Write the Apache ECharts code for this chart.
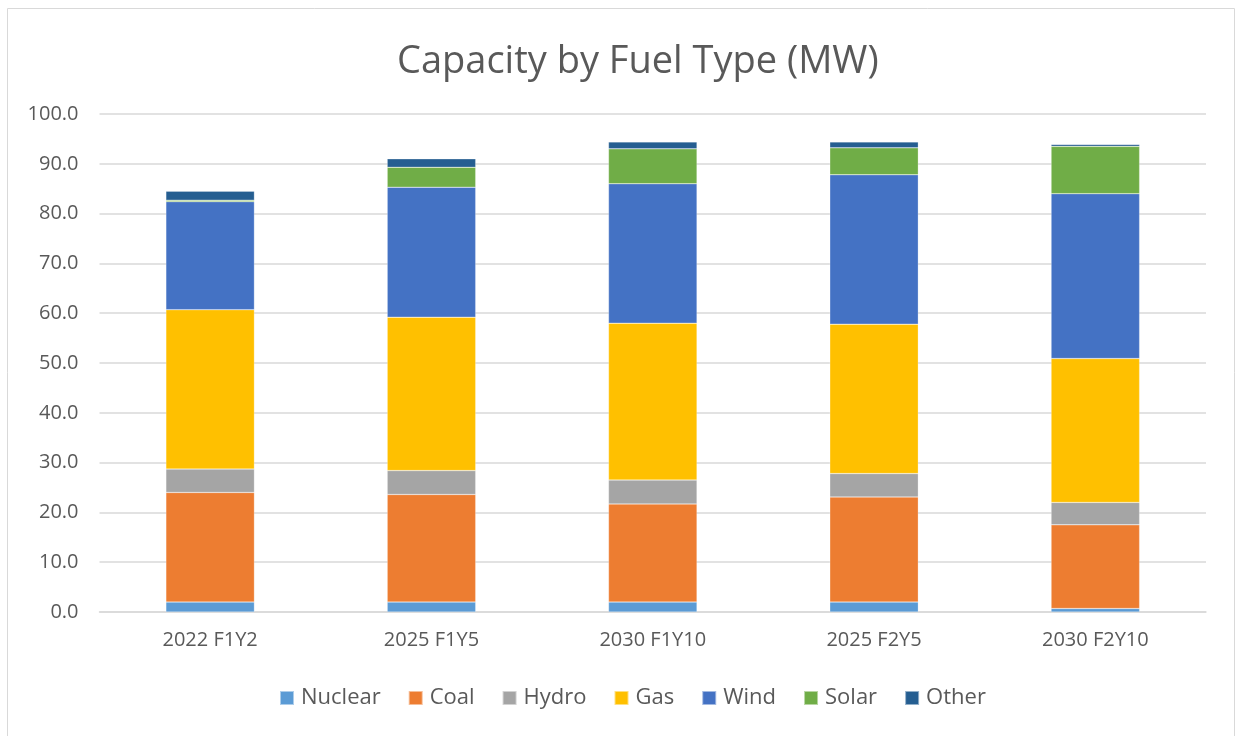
<!DOCTYPE html>
<html>
<head>
<meta charset="utf-8">
<script src="https://cdn.jsdelivr.net/npm/echarts@6/dist/echarts.min.js"></script>
<style>
html,body{margin:0;padding:0;background:#fff;}
#c{width:1236px;height:736px;}
</style>
</head>
<body>
<div id="c"></div>
<script>
const categories = ['2022 F1Y2', '2025 F1Y5', '2030 F1Y10', '2025 F2Y5', '2030 F2Y10'];
const nuclear = [2.0, 2.0, 2.0, 2.0, 0.7];
const coal    = [22.0, 21.6, 19.7, 21.1, 16.8];
const hydro   = [4.7, 4.8, 4.8, 4.7, 4.5];
const gas     = [32.0, 30.8, 31.5, 30.0, 28.9];
const wind    = [21.7, 26.1, 28.0, 30.0, 33.1];
const solar   = [0.3, 4.0, 7.0, 5.4, 9.5];
const other   = [1.8, 1.7, 1.4, 1.2, 0.4];
const seriesNames = ['Nuclear', 'Coal', 'Hydro', 'Gas', 'Wind', 'Solar', 'Other'];
const seriesData = [nuclear, coal, hydro, gas, wind, solar, other];
const colors = ['#5B9BD5', '#ED7D31', '#A5A5A5', '#FFC000', '#4472C4', '#70AD47', '#255E91'];

const FONT = 'Open Sans';
const chart = echarts.init(document.getElementById('c'));
chart.setOption({
  animation: false,
  color: colors,
  title: {
    text: 'Capacity by Fuel Type (MW)',
    left: 392,
    top: 38,
    textStyle: { fontFamily: FONT, fontSize: 38, fontWeight: 'normal', color: '#595959' }
  },
  graphic: [{
    type: 'rect',
    shape: { x: 7.5, y: 8.5, width: 1227, height: 740 },
    style: { fill: 'none', stroke: '#d9d9d9', lineWidth: 1 },
    silent: true
  }],
  legend: {
    bottom: 22,
    left: 274,
    itemWidth: 14,
    itemHeight: 14,
    itemGap: 27,
    icon: 'rect',
    textStyle: { fontFamily: FONT, fontSize: 22, color: '#595959', padding: [0, 0, 0, 2] },
    data: seriesNames
  },
  grid: { left: 99.5, right: 30, top: 114, bottom: 124, containLabel: false },
  xAxis: {
    type: 'category',
    data: categories,
    axisLine: { lineStyle: { color: '#d9d9d9', width: 1.5 } },
    axisTick: { show: false },
    axisLabel: { fontFamily: FONT, fontSize: 20, color: '#595959', margin: 18 }
  },
  yAxis: {
    type: 'value',
    min: 0,
    max: 100,
    interval: 10,
    axisLine: { show: false },
    axisTick: { show: false },
    splitLine: { lineStyle: { color: '#d9d9d9', width: 1.5 } },
    axisLabel: { fontFamily: FONT, fontSize: 20, color: '#595959', margin: 21, formatter: v => v.toFixed(1) }
  },
  series: seriesNames.map((n, i) => ({
    name: n,
    type: 'bar',
    stack: 'total',
    barWidth: '40%',
    data: seriesData[i],
    itemStyle: { borderColor: 'rgba(255,255,255,0.5)', borderWidth: 0.5 }
  }))
});
</script>
</body>
</html>
